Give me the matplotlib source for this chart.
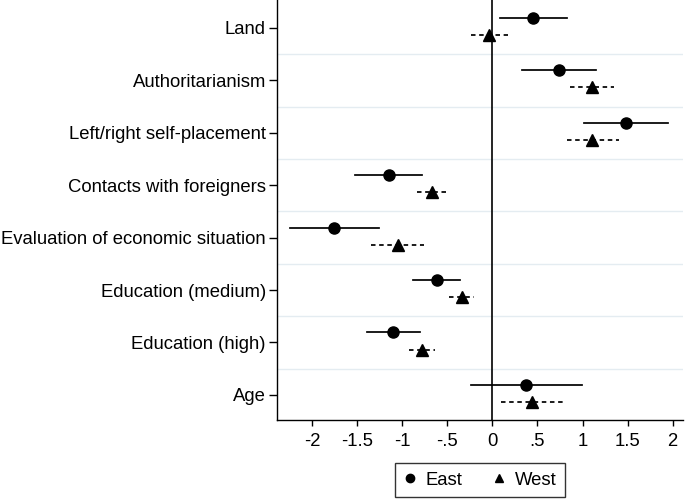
import matplotlib
matplotlib.use("Agg")
import matplotlib.pyplot as plt
from matplotlib.lines import Line2D

plt.rcParams['font.family'] = ['Liberation Sans', 'DejaVu Sans']

categories = ["Land", "Authoritarianism", "Left/right self-placement",
              "Contacts with foreigners", "Evaluation of economic situation",
              "Education (medium)", "Education (high)", "Age"]

east_est = [0.455, 0.74, 1.48, -1.15, -1.76, -0.617, -1.10, 0.37]
east_lo = [0.085, 0.33, 1.02, -1.52, -2.25, -0.876, -1.39, -0.24]
east_hi = [0.83, 1.15, 1.945, -0.78, -1.26, -0.358, -0.80, 0.99]

west_est = [-0.036, 1.105, 1.11, -0.665, -1.05, -0.34, -0.78, 0.44]
west_lo = [-0.24, 0.86, 0.825, -0.835, -1.345, -0.48, -0.92, 0.10]
west_hi = [0.17, 1.35, 1.405, -0.52, -0.757, -0.20, -0.64, 0.78]

xticks = [-2, -1.5, -1, -0.5, 0, 0.5, 1, 1.5, 2]
xticklabels = ["-2", "-1.5", "-1", "-.5", "0", ".5", "1", "1.5", "2"]

FS = 13.3

fig = plt.figure(figsize=(6.85, 4.99), dpi=100)
ax = fig.add_axes([277/685, 1 - 420/499, 406/685, 420/499])

n = len(categories)
pos = list(range(n))
off_e, off_w = -0.19, 0.135

for y in range(n - 1):
    ax.axhline(y + 0.5, color='#e4ecf1', lw=1.0, zorder=0)

ax.axvline(0, color='black', lw=1.2, zorder=1)

for i in pos:
    ax.plot([east_lo[i], east_hi[i]], [i + off_e] * 2, color='black', lw=1.25, zorder=2)
    ax.plot([west_lo[i], west_hi[i]], [i + off_w] * 2, color='black', lw=1.25,
            dashes=(2.6, 2.1), zorder=2)
ax.plot(east_est, [p + off_e for p in pos], 'o', color='black', ms=8, zorder=3)
ax.plot(west_est, [p + off_w for p in pos], '^', color='black', ms=8, zorder=3)

ax.set_xlim(-2.39, 2.115)
ax.set_ylim(7.48, -0.534)
ax.set_yticks(pos)
ax.set_yticklabels(categories, fontsize=FS)
ax.set_xticks(xticks)
ax.set_xticklabels(xticklabels, fontsize=FS)
ax.tick_params(axis='y', length=6, width=1, pad=2)
ax.tick_params(axis='x', length=4.5, width=1, pad=5)
for s in ['top', 'right']:
    ax.spines[s].set_visible(False)
for s in ['left', 'bottom']:
    ax.spines[s].set_linewidth(1.0)

handles = [Line2D([], [], marker='o', color='black', ls='none', ms=6),
           Line2D([], [], marker='^', color='black', ls='none', ms=6)]
leg = fig.legend(handles, ["East", "West"], loc='lower center',
                 bbox_to_anchor=(480/685, 2/499), ncol=2, fontsize=FS,
                 frameon=True, fancybox=False, edgecolor='black',
                 handlelength=0.7, handletextpad=0.5, columnspacing=1.6,
                 borderpad=0.45, borderaxespad=0)
leg.get_frame().set_linewidth(1.0)

fig.savefig("out.png", dpi=100)
